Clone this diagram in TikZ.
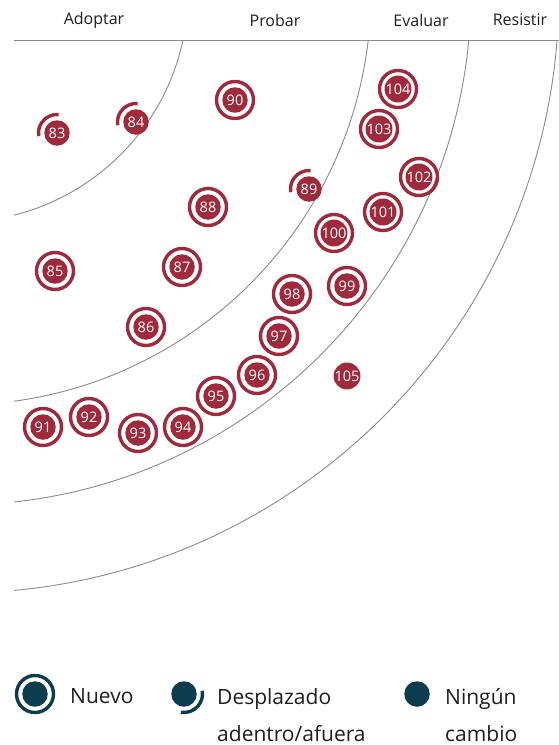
\documentclass[tikz,border=0pt]{standalone}
\usepackage{fontspec}
\setmainfont{Open Sans}
\usepackage{xcolor}
\usepackage{tikz}
\definecolor{blipred}{HTML}{9E2A3C}
\definecolor{radarteal}{HTML}{0B3D4F}
\definecolor{ringgrey}{HTML}{8A8A8A}
\definecolor{inkgrey}{HTML}{1E1E1E}
\usetikzlibrary{positioning}

\begin{document}
\begin{tikzpicture}[x=1pt,y=1pt,
  blip/.style={circle,fill=blipred,text=white,inner sep=0pt,minimum size=25.5pt,
               font=\fontsize{14.5}{16}\selectfont},
  still/.style={circle,fill=radarteal,inner sep=0pt,minimum size=25.5pt},
  halo/.style={draw=blipred,line width=3.4pt},
  tealhalo/.style={draw=radarteal,line width=3.4pt},
  ringline/.style={draw=ringgrey,line width=0.9pt},
  head/.style={font=\fontsize{16}{18}\selectfont,text=inkgrey,inner sep=0pt},
  lgd/.style={font=\fontsize{21}{37}\selectfont,text=inkgrey,align=left,inner sep=0pt}]

\useasboundingbox (0,0) rectangle (559,-745);

% ring boundaries
\begin{scope}
  \clip (14,-40) rectangle (560,-745);
  \foreach \r in {230,413,513,601}
    \draw[ringline] (-42,8) circle[radius=\r];
\end{scope}
\draw[ringline] (14,-40) -- (559,-40);

% ring names
\node[head] (adopt)  at (94,-20)  {Adoptar};
\node[head] (trial)  at (275,-20) {Probar};
\node[head] (assess) at (421,-20) {Evaluar};
\node[head] (hold)   at (520,-20) {Resistir};

% new blips
\foreach \n/\x/\y in {90/235/100,104/398/89,103/379/129,102/419/177,88/208/207,
    101/383/212,100/334/233,85/55/271,87/182/267,99/347/286,98/292/294,86/146/327,
    97/279/336,96/257/375,95/216/396,91/43/427,92/89/417,93/138/433,94/183/427}{
  \node[blip] (b\n) at (\x,-\y) {\n};
  \draw[halo] (b\n.center) circle[radius=18.5];
}

% moved blips
\foreach \n/\x/\y in {83/57/133,84/136/122,89/309/189}{
  \node[blip] (b\n) at (\x,-\y) {\n};
  \draw[halo] (b\n.center) ++(85:18.5) arc[start angle=85,end angle=190,radius=18.5];
}

% unchanged blip
\node[blip] (b105) at (347,-376) {105};

% legend
\node[still] (newicon) at (35,-694) {};
\draw[tealhalo] (newicon.center) circle[radius=18.5];
\node[lgd,anchor=north west] (newtxt) at (70,-688) {Nuevo};

\node[still] (movedicon) at (184,-694) {};
\draw[tealhalo] (movedicon.center) ++(-100:18.5) arc[start angle=-100,end angle=10,radius=18.5];
\node[lgd,anchor=north west] (movedtxt) at (217,-688) {Desplazado\\adentro/afuera};

\node[still] (sameicon) at (417,-694) {};
\node[lgd,anchor=north west] (sametxt) at (445,-688) {Ningún\\cambio};
\end{tikzpicture}
\end{document}
